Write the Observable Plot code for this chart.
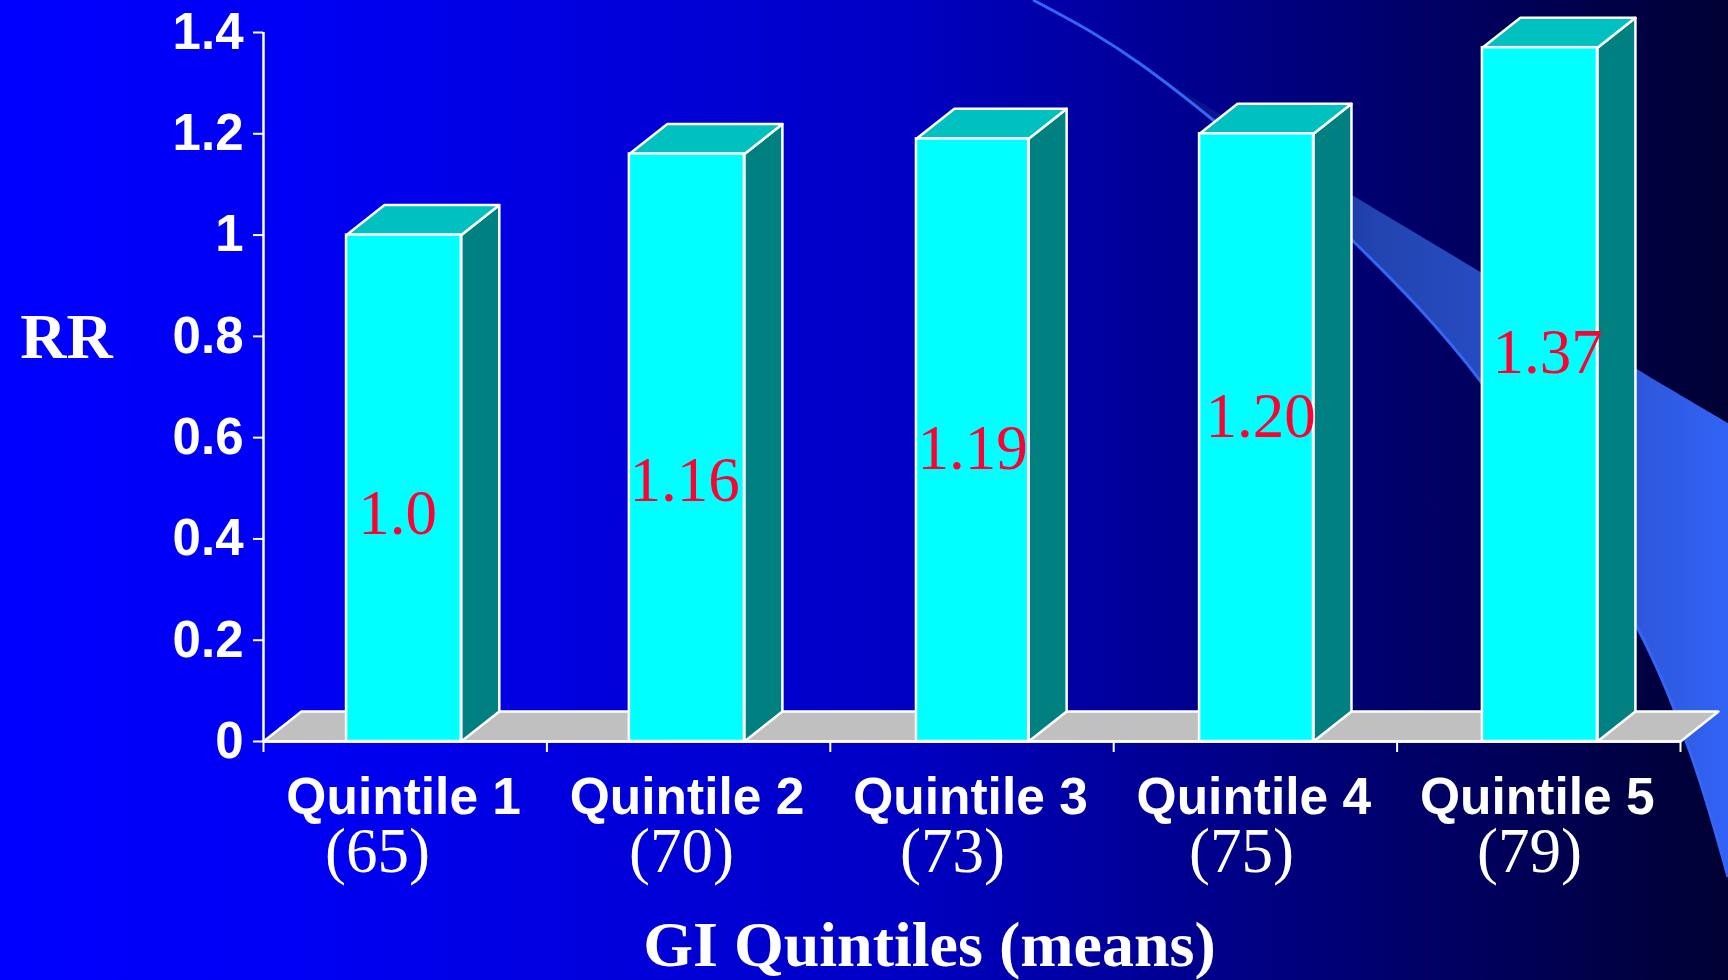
<!DOCTYPE html>
<html>
<head>
<meta charset="utf-8">
<title>RR by GI quintile</title>
<style>
  html, body { margin: 0; padding: 0; width: 1728px; height: 980px; overflow: hidden; }
  body { background: linear-gradient(90deg, #0000ff 0px, #0000f4 300px, #0000c4 900px, #000080 1270px, #00005a 1500px, #000033 1728px); }
  svg { display: block; }
</style>
<script src="https://cdn.jsdelivr.net/npm/d3@7"></script>
<script src="https://cdn.jsdelivr.net/npm/@observablehq/plot@0.6"></script>
</head>
<body>
<div id="chart"></div>
<script>
// Relative risk by glycemic-index quintile
const quintiles = ["Quintile 1", "Quintile 2", "Quintile 3", "Quintile 4", "Quintile 5"];
const means = ["(65)", "(70)", "(73)", "(75)", "(79)"];
const rr = [1.0, 1.16, 1.19, 1.20, 1.37];
const rrLabels = ["1.0", "1.16", "1.19", "1.20", "1.37"];
const yTicks = [0, 0.2, 0.4, 0.6, 0.8, 1, 1.2, 1.4];
const xTicks = [0, 1, 2, 3, 4, 5];

// Hand placement of the slide's free-floating labels, in scale units
const meanLabelX = [0.402, 1.475, 2.431, 3.451, 4.467];
const rrLabelX = [0.473, 1.486, 2.502, 3.518, 4.531];
const rrLabelY = [0.45, 0.515, 0.577, 0.642, 0.767];

// Front-face extents of each bar along the x scale
const barLeft = [0.293, 1.291, 2.304, 3.303, 4.301];
const barRight = [0.698, 1.697, 2.700, 3.705, 4.707];

// Extrusion of the 3D bars and floor, in scale units
const depthX = 0.134;
const depthY = 0.0593;

const SANS = "'Liberation Sans', Arial, sans-serif";
const SERIF = "'Liberation Serif', 'Times New Roman', serif";

const poly = (id, pts) => pts.concat([pts[0]]).map(([x, y]) => ({id, x, y}));
const bars = rr.map((v, i) => ({i, v, x1: barLeft[i], x2: barRight[i]}));

const tops = bars.flatMap(b => poly(b.i, [
  [b.x1, b.v], [b.x2, b.v], [b.x2 + depthX, b.v + depthY], [b.x1 + depthX, b.v + depthY]
]));
const sides = bars.flatMap(b => poly(b.i, [
  [b.x2, 0], [b.x2 + depthX, depthY], [b.x2 + depthX, b.v + depthY], [b.x2, b.v]
]));
const floor = poly(0, [[0, 0], [5, 0], [5 + depthX, depthY], [depthX, depthY]]);

// Curved ribbon that sweeps across the slide behind the chart
function ribbon() {
  const lower = [[1033, 0], [1093, 33], [1139, 63], [1213, 120], [1352, 240], [1482, 383], [1636, 625], [1690, 752], [1728, 877]];
  const upper = [[1153, 72], [1218, 113], [1352, 195], [1482, 273], [1635, 368], [1728, 423]];
  const ns = "http://www.w3.org/2000/svg";
  const g = document.createElementNS(ns, "g");
  const line = d3.line().curve(d3.curveCatmullRom);
  const body = lower.slice(2);
  const outline = line(upper) + "L1740,430L1740,980L1728,877";
  g.innerHTML = `
    <defs><linearGradient id="ribbonFill" gradientUnits="userSpaceOnUse" x1="1140" x2="1728" y1="0" y2="0">
      <stop offset="0" stop-color="#000080"/><stop offset="0.4" stop-color="#2244b0"/><stop offset="0.85" stop-color="#2e58dc"/><stop offset="1" stop-color="#3263f5"/>
    </linearGradient></defs>
    <path d="${outline + line(body.slice().reverse()).replace(/^M/, "L")}Z" fill="url(#ribbonFill)"/>
    <path d="${line(lower)}" fill="none" stroke="#3366f5" stroke-width="3"/>`;
  return g;
}

const chart = Plot.plot({
  width: 1728,
  height: 980,
  marginLeft: 263,
  marginRight: 48,
  marginTop: 32,
  marginBottom: 239,
  style: {background: "transparent", overflow: "visible"},
  x: {type: "linear", domain: [0, 5], axis: null},
  y: {domain: [0, 1.4], axis: null},
  marks: [
    ribbon,
    Plot.line(floor, {x: "x", y: "y", fill: "#c0c0c0", stroke: "white", strokeWidth: 2.5, curve: "linear"}),
    Plot.axisX({ticks: xTicks, tickSize: 11, tickFormat: () => "", stroke: "white", strokeWidth: 2, label: null}),
    Plot.ruleX([0], {y1: 0, y2: 1.4, stroke: "white", strokeWidth: 2.5}),
    Plot.ruleY([0], {stroke: "white", strokeWidth: 2.5}),
    Plot.axisY({
      ticks: yTicks, tickSize: 10, tickPadding: 10, label: null, stroke: "white", color: "white", strokeWidth: 2,
      tickFormat: d => String(d), fontSize: 51, fontWeight: "bold", fontFamily: SANS
    }),
    Plot.line(sides, {x: "x", y: "y", z: "id", fill: "#008080", stroke: "white", strokeWidth: 2.5, curve: "linear"}),
    Plot.line(tops, {x: "x", y: "y", z: "id", fill: "#00c0c0", stroke: "white", strokeWidth: 2.5, curve: "linear"}),
    Plot.rect(bars, {x1: "x1", x2: "x2", y1: 0, y2: "v", fill: "#00ffff", stroke: "white", strokeWidth: 2.5}),
    Plot.text(quintiles, {
      x: (d, i) => i + 0.5, y: 0, dx: -1.5, dy: 56, text: d => d, fill: "white", fontSize: 51.5, fontWeight: "bold", fontFamily: SANS
    }),
    Plot.text(means, {
      x: (d, i) => meanLabelX[i], y: 0, dy: 110, text: d => d, fill: "white", fontSize: 63, fontFamily: SERIF
    }),
    Plot.text(rrLabels, {
      x: (d, i) => rrLabelX[i], y: (d, i) => rrLabelY[i], text: d => d, fill: "#ff0033", fontSize: 63, fontFamily: SERIF
    }),
    Plot.text(["RR"], {frameAnchor: "top-left", dx: -197, dy: 280, text: d => d, textAnchor: "middle", fill: "white", fontSize: 64, fontWeight: "bold", fontFamily: SERIF}),
    Plot.text(["GI Quintiles (means)"], {x: 2.35, y: 0, dy: 204, text: d => d, fill: "white", fontSize: 64, fontWeight: "bold", fontFamily: SERIF})
  ]
});
document.getElementById("chart").append(chart);
</script>
</body>
</html>
